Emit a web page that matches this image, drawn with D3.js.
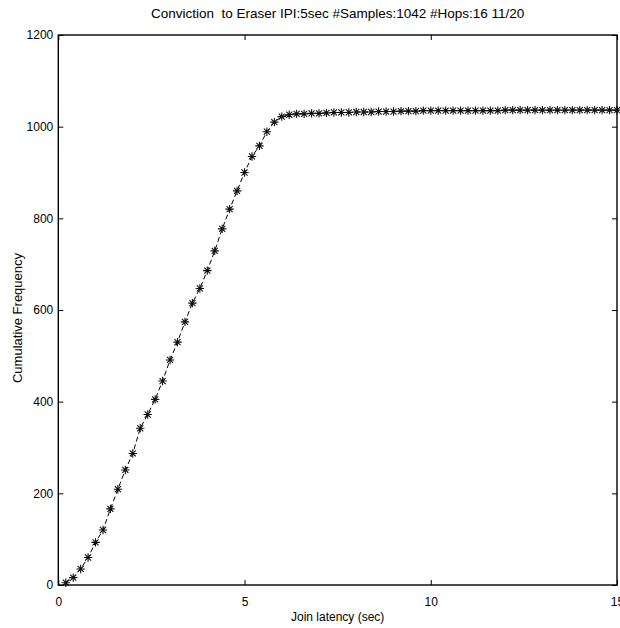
<!DOCTYPE html>
<html>
<head>
<meta charset="utf-8">
<script src="https://cdn.jsdelivr.net/npm/d3@7"></script>
<style>
  html, body { margin: 0; padding: 0; background: #fff; }
  svg { display: block; font-family: "Liberation Sans", Arial, Helvetica, sans-serif; }
</style>
</head>
<body>
<svg id="chart" width="620" height="628"></svg>
<script>
const titleText = "Conviction  to Eraser IPI:5sec #Samples:1042 #Hops:16 11/20";
const xLabelText = "Join latency (sec)";
const yLabelText = "Cumulative Frequency";
const xTicks = [0, 5, 10, 15];
const yTicks = [0, 200, 400, 600, 800, 1000, 1200];

const latency = [
  0.2, 0.4, 0.6, 0.8, 1.0, 1.2, 1.4, 1.6, 1.8, 2.0,
  2.2, 2.4, 2.6, 2.8, 3.0, 3.2, 3.4, 3.6, 3.8, 4.0,
  4.2, 4.4, 4.6, 4.8, 5.0, 5.2, 5.4, 5.6, 5.8, 6.0,
  6.2, 6.4, 6.6, 6.8, 7.0, 7.2, 7.4, 7.6, 7.8, 8.0,
  8.2, 8.4, 8.6, 8.8, 9.0, 9.2, 9.4, 9.6, 9.8, 10.0,
  10.2, 10.4, 10.6, 10.8, 11.0, 11.2, 11.4, 11.6, 11.8, 12.0,
  12.2, 12.4, 12.6, 12.8, 13.0, 13.2, 13.4, 13.6, 13.8, 14.0,
  14.2, 14.4, 14.6, 14.8, 15.0
];
const cumFreq = [
  5, 16, 35, 60, 93, 120, 166, 209, 251, 287,
  342, 372, 405, 445, 491, 530, 574, 615, 647, 686,
  729, 777, 820, 860, 900, 935, 958, 989, 1010, 1022,
  1026, 1028, 1028, 1029, 1029, 1030, 1031, 1031, 1031, 1032,
  1032, 1032, 1033, 1033, 1033, 1034, 1034, 1034, 1035, 1035,
  1035, 1035, 1035, 1035, 1035, 1035, 1035, 1035, 1035, 1036,
  1036, 1036, 1036, 1036, 1036, 1036, 1036, 1036, 1036, 1036,
  1036, 1036, 1036, 1036, 1036
];

const svg = d3.select("#chart");
const L = 58.3, R = 617, T = 35, B = 585;
const x = d3.scaleLinear().domain([0, 15]).range([L, R]);
const y = d3.scaleLinear().domain([0, 1200]).range([B, T]);
const tickLen = 5;

const data = latency.map((d, i) => ({ x: d, y: cumFreq[i] }));

// data line (dashed)
svg.append("path")
  .datum(data)
  .attr("fill", "none")
  .attr("stroke", "#000")
  .attr("stroke-width", 1)
  .attr("stroke-dasharray", "5,3")
  .attr("d", d3.line().x(d => x(d.x)).y(d => y(d.y)));

// asterisk markers
const r = 4.2, rd = r * 0.72;
const star = `M${-r},0L${r},0M0,${-r}L0,${r}M${-rd},${-rd}L${rd},${rd}M${-rd},${rd}L${rd},${-rd}`;
svg.append("g").selectAll("path")
  .data(data)
  .join("path")
  .attr("transform", d => `translate(${x(d.x)},${y(d.y)})`)
  .attr("d", star)
  .attr("fill", "none")
  .attr("stroke", "#111")
  .attr("stroke-width", 1.1);

// axes: bottom & left with labels, top & right without; inward ticks
const fontSize = 12;
const axBottom = svg.append("g").attr("transform", `translate(0,${B})`)
  .call(d3.axisBottom(x).tickValues(xTicks).tickFormat(d3.format("d")).tickSizeInner(-tickLen).tickSizeOuter(0).tickPadding(10));
const axTop = svg.append("g").attr("transform", `translate(0,${T})`)
  .call(d3.axisTop(x).tickValues(xTicks).tickFormat("").tickSizeInner(-tickLen).tickSizeOuter(0));
const axLeft = svg.append("g").attr("transform", `translate(${L},0)`)
  .call(d3.axisLeft(y).tickValues(yTicks).tickFormat(d3.format("d")).tickSizeInner(-tickLen).tickSizeOuter(0).tickPadding(10));
const axRight = svg.append("g").attr("transform", `translate(${R},0)`)
  .call(d3.axisRight(y).tickValues(yTicks).tickFormat("").tickSizeInner(-tickLen).tickSizeOuter(0));

[axBottom, axTop, axLeft, axRight].forEach(g => {
  g.select(".domain").remove();
  g.selectAll(".tick line").attr("stroke", "#000").attr("stroke-width", 1);
  g.selectAll(".tick text").attr("font-size", fontSize).attr("fill", "#000")
    .attr("font-family", "'Liberation Sans', Arial, sans-serif");
});
axBottom.selectAll(".tick text").attr("dy", "0.71em").attr("y", 12);
axLeft.selectAll(".tick text").attr("x", -5);

// box
svg.append("rect")
  .attr("x", L).attr("y", T)
  .attr("width", R - L).attr("height", B - T)
  .attr("fill", "none").attr("stroke", "#000").attr("stroke-width", 1.4);

// title and labels
svg.append("text")
  .attr("x", (L + R) / 2).attr("y", 18)
  .attr("text-anchor", "middle").attr("font-size", 13.5).attr("fill", "#000")
  .style("white-space", "pre")
  .text(titleText);
svg.append("text")
  .attr("x", (L + R) / 2).attr("y", 621)
  .attr("text-anchor", "middle").attr("font-size", 12).attr("fill", "#000")
  .text(xLabelText);
svg.append("text")
  .attr("transform", `translate(22,${(T + B) / 2 + 8}) rotate(-90)`)
  .attr("text-anchor", "middle").attr("font-size", 13).attr("fill", "#000")
  .text(yLabelText);
</script>
</body>
</html>
